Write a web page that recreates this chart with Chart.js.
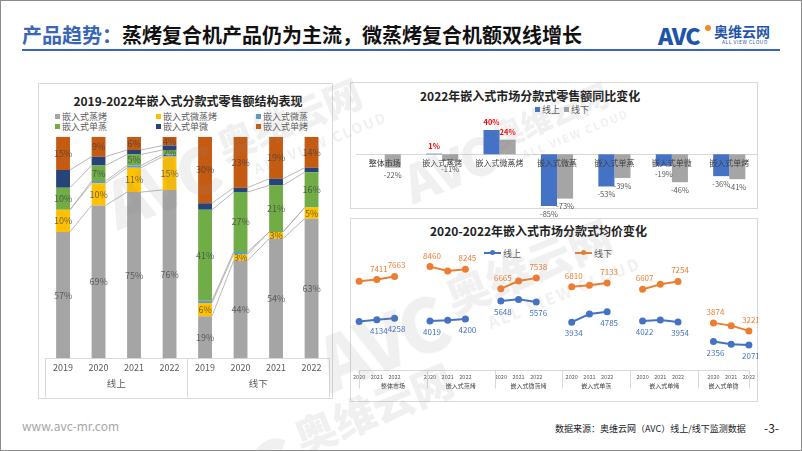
<!DOCTYPE html>
<html>
<head>
<meta charset="utf-8">
<script src="https://cdn.jsdelivr.net/npm/chart.js@4.4.0/dist/chart.umd.min.js"></script>
<style>
  body { margin: 0; background: #fff; }
  #slide { position: relative; width: 802px; height: 451px; overflow: hidden; background: #fff;
           font-family: "Noto Sans CJK SC", "Noto Sans", sans-serif; }
  .abs { position: absolute; }
  .panel { position: absolute; border: 1px solid #D9D9D9; box-sizing: border-box; }
  .ctitle { position: absolute; font-size: 12px; font-weight: 700; color: #222; white-space: nowrap; line-height: 16px; }
  .legend { position: absolute; font-size: 9px; color: #595959; white-space: nowrap; line-height: 10px; }
  .legend span.sw { display: inline-block; width: 5px; height: 5px; margin-right: 2px; vertical-align: 1px; }
  canvas { position: absolute; }
  .wm { position: absolute; color: rgba(140,140,140,0.13); white-space: nowrap; transform-origin: 0 0; pointer-events: none; }
  .wm .big { font-size: 64px; font-weight: 900; letter-spacing: -3px; line-height: 64px; display: inline-block; }
  .wm .cn { font-size: 38px; font-weight: 900; line-height: 40px; display: inline-block; vertical-align: top; margin-left: 10px; }
  .wm .en { position: absolute; left: 150px; top: 44px; font-size: 14px; font-weight: 700; letter-spacing: 2px; }
</style>
</head>
<body>
<div id="slide">
  <div class="abs" style="left:22px;top:21px;font-size:20px;font-weight:700;line-height:28px;color:#111;white-space:nowrap;"><span style="color:#3A66B8;">产品趋势：</span>蒸烤复合机产品仍为主流，微蒸烤复合机额双线增长</div>
  <div class="abs" style="left:22px;top:49px;width:758px;height:2px;background:#3A66B8;"></div>
  <div class="abs" style="left:658px;top:20px;font-size:23px;font-weight:900;color:#1F55A8;letter-spacing:-1px;line-height:30px;">AVC</div>
  <div class="abs" style="left:705px;top:25px;width:6px;height:6px;border-radius:3px;background:#F08A24;"></div>
  <div class="abs" style="left:714px;top:23px;font-size:14px;font-weight:700;color:#1F55A8;line-height:16px;">奥维云网</div>
  <div class="abs" style="left:722px;top:39px;font-size:5px;color:#1F55A8;line-height:6px;letter-spacing:0.5px;">ALL VIEW CLOUD</div>

  <!-- left panel -->
  <div class="panel" style="left:38px;top:83px;width:295px;height:316px;"></div>
  <div class="ctitle" style="left:38px;top:93px;width:300px;text-align:center;">2019-2022年嵌入式分款式零售额结构表现</div>
  <div class="legend" id="mixLegend" style="left:55px;top:112px;display:grid;grid-template-columns:101px 100px 100px;"></div>
  <canvas id="mixChart" width="295" height="316" style="left:38px;top:83px;"></canvas>

  <!-- top right panel -->
  <div class="panel" style="left:350px;top:82px;width:408px;height:127px;"></div>
  <div class="ctitle" style="left:420px;top:88px;width:216px;text-align:center;">2022年嵌入式市场分款式零售额同比变化</div>
  <div class="legend" id="yoyLegend" style="left:535px;top:105px;"></div>
  <canvas id="yoyChart" width="408" height="135" style="left:350px;top:82px;"></canvas>

  <!-- bottom right panel -->
  <div class="panel" style="left:350px;top:218px;width:408px;height:184px;"></div>
  <div class="ctitle" style="left:430px;top:223px;width:216px;text-align:center;">2020-2022年嵌入式市场分款式均价变化</div>
  <div class="legend" id="priceLegend" style="left:484px;top:249px;"></div>
  <canvas id="priceChart" width="408" height="184" style="left:350px;top:218px;"></canvas>

  <div class="abs" style="left:22px;top:418px;font-size:12px;color:#A6A6A6;line-height:16px;">www.avc-mr.com</div>
  <div class="abs" style="left:555px;top:423px;font-size:9px;color:#222;line-height:12px;white-space:nowrap;">数据来源：奥维云网（AVC）线上/线下监测数据</div>
  <div class="abs" style="left:764px;top:420px;font-size:12px;color:#222;line-height:16px;">-3-</div>

  <!-- watermarks -->
  <div class="wm" style="left:95px;top:175px;transform:rotate(-22deg);"><span class="big">AVC</span><span class="cn">奥维云网</span><span class="en">ALL VIEW CLOUD</span></div>
  <div class="wm" style="left:395px;top:160px;transform:rotate(-22deg) scale(0.8);"><span class="big">AVC</span><span class="cn">奥维云网</span><span class="en">ALL VIEW CLOUD</span></div>
  <div class="wm" style="left:305px;top:330px;transform:rotate(-22deg) scale(1.15);"><span class="big">AVC</span><span class="cn">奥维云网</span><span class="en">ALL VIEW CLOUD</span></div>
  <div class="wm" style="left:160px;top:470px;transform:rotate(-22deg) scale(1.1);"><span class="big">AVC</span><span class="cn">奥维云网</span></div>

  <div class="abs" style="left:0;top:0;width:800px;height:449px;border:1px solid #8C8C8C;"></div>
</div>

<script>
// ============ DATA ============
// 零售额结构 (%)
const mixYears = ['2019', '2020', '2021', '2022', '2019', '2020', '2021', '2022'];
const mixChannels = ['线上', '线下'];
const mixSeries = ['嵌入式蒸烤', '嵌入式微蒸烤', '嵌入式微蒸', '嵌入式单蒸', '嵌入式单微', '嵌入式单烤'];
const mixSteamBake      = [57, 69, 75, 76, 19, 44, 54, 63];
const mixMicroSteamBake = [10, 10, 11, 15, 6, 3, 3, 5];
const mixMicroSteam     = [0, 1, 1, 1, 1, 1, 0, 0];
const mixSteam          = [10, 7, 5, 2, 41, 27, 21, 16];
const mixMicro          = [8, 4, 2, 2, 3, 2, 3, 2];
const mixBake           = [15, 9, 6, 4, 30, 23, 19, 14];

// 同比变化 (%)
const yoyCats = ['整体市场', '嵌入式蒸烤', '嵌入式微蒸烤', '嵌入式微蒸', '嵌入式单蒸', '嵌入式单微', '嵌入式单烤'];
const yoySeries = ['线上', '线下'];
const yoyOnline  = [0, 1, 40, -85, -53, -19, -36];
const yoyOffline = [-22, -11, 24, -73, -39, -46, -41];

// 均价 (元)
const priceYears = ['2020', '2021', '2022'];
const priceGroups = ['整体市场', '嵌入式蒸烤', '嵌入式微蒸烤', '嵌入式单蒸', '嵌入式单烤', '嵌入式单微'];
const priceSeries = ['线上', '线下'];
const priceOnline  = [[3990, 4134, 4258], [4019, 4090, 4200], [5648, 5790, 5576], [3934, 4600, 4785], [4022, 4100, 3954], [2356, 2130, 2071]];
const priceOffline = [[7260, 7411, 7663], [8460, 8110, 8245], [6665, 7290, 7538], [6810, 6950, 7133], [6607, 7020, 7254], [3874, 3650, 3221]];
const priceShown   = [[1, 2], [0, 2], [0, 2], [0, 2], [0, 2], [0, 2]];

// ============ STYLE ============
const FONT = '"Noto Sans CJK SC", "Noto Sans", sans-serif';
Chart.defaults.font.family = FONT;
Chart.defaults.animation = false;
Chart.defaults.plugins.legend.display = false;
Chart.defaults.plugins.tooltip.enabled = false;

const mixColors = ['#A5A5A5', '#FFC000', '#5B9BD5', '#70AD47', '#264478', '#C55A11'];
const mixLabelled = [true, true, false, true, false, true];
const yoyColors = ['#4472C4', '#A5A5A5'];
const priceColors = ['#4472C4', '#ED7D31'];

// ============ LEGENDS ============
document.getElementById('mixLegend').innerHTML = mixSeries.map((s, i) =>
    `<div><span class="sw" style="background:${mixColors[i]}"></span>${s}</div>`).join('');
document.getElementById('yoyLegend').innerHTML = yoySeries.map((s, i) =>
    `<span class="sw" style="background:${yoyColors[i]}"></span>${s}`).join('&nbsp;&nbsp;');
document.getElementById('priceLegend').innerHTML = priceSeries.map((s, i) =>
    `<span style="display:inline-block;position:relative;width:17px;height:2px;background:${priceColors[i]};vertical-align:3px;margin-right:2px;">` +
    `<span style="position:absolute;left:6px;top:-2px;width:5px;height:5px;border-radius:3px;background:${priceColors[i]}"></span></span>${s}`)
    .join('<span style="display:inline-block;width:54px"></span>');

// ============ LEFT: 结构 ============
const mixPlugin = {
    id: 'mixExtras',
    afterDatasetsDraw(chart) {
        const ctx = chart.ctx;
        const sets = chart.data.datasets;
        ctx.save();
        // series lines between bars of the same channel
        ctx.strokeStyle = '#A6A6A6';
        ctx.lineWidth = 0.8;
        sets.forEach((ds, d) => {
            if (d === sets.length - 1) return;
            const bars = chart.getDatasetMeta(d).data;
            for (let i = 0; i < bars.length - 1; i++) {
                if (i === 3) continue;
                const a = bars[i], b = bars[i + 1];
                ctx.beginPath();
                ctx.moveTo(a.x + a.width / 2, a.y);
                ctx.lineTo(b.x - b.width / 2, b.y);
                ctx.stroke();
            }
        });
        // data labels
        ctx.font = '9px ' + FONT;
        ctx.textAlign = 'center';
        ctx.textBaseline = 'middle';
        ctx.fillStyle = 'rgba(64,64,64,0.75)';
        sets.forEach((ds, d) => {
            if (!mixLabelled[d]) return;
            chart.getDatasetMeta(d).data.forEach((bar, i) => {
                const v = ds.data[i];
                if (!v) return;
                ctx.fillText(v + '%', bar.x, (bar.y + bar.base) / 2);
            });
        });
        // channel labels + separators
        const x = chart.scales.x, area = chart.chartArea;
        const mid = (x.getPixelForValue(3) + x.getPixelForValue(4)) / 2;
        ctx.strokeStyle = '#D9D9D9';
        ctx.lineWidth = 1;
        [area.left, mid, area.right].forEach(px => {
            ctx.beginPath();
            ctx.moveTo(Math.round(px) + 0.5, area.bottom);
            ctx.lineTo(Math.round(px) + 0.5, area.bottom + 39);
            ctx.stroke();
        });
        ctx.fillStyle = '#595959';
        ctx.font = '9.5px ' + FONT;
        mixChannels.forEach((c, k) => {
            const cx = (x.getPixelForValue(k * 4 + 1) + x.getPixelForValue(k * 4 + 2)) / 2;
            ctx.fillText(c, cx, area.bottom + 25);
        });
        ctx.restore();
    }
};

new Chart(document.getElementById('mixChart'), {
    type: 'bar',
    data: {
        labels: mixYears,
        datasets: [mixSteamBake, mixMicroSteamBake, mixMicroSteam, mixSteam, mixMicro, mixBake].map((data, i) => ({
            label: mixSeries[i], data, backgroundColor: mixColors[i]
        }))
    },
    options: {
        responsive: false,
        layout: { padding: { left: 7.3, right: 3.7, top: 53.7, bottom: 0.7 } },
        datasets: { bar: { barPercentage: 0.39, categoryPercentage: 1 } },
        scales: {
            x: {
                stacked: true,
                grid: { display: false, drawTicks: false },
                border: { color: '#D9D9D9' },
                ticks: { color: '#595959', font: { size: 9 }, padding: 4, maxRotation: 0, autoSkip: false },
                afterFit: s => { s.height = 40; }
            },
            y: { stacked: true, display: false, min: 0, max: 100 }
        }
    },
    plugins: [mixPlugin]
});

// ============ TOP RIGHT: 同比 ============
const yoyPlugin = {
    id: 'yoyLabels',
    afterDatasetsDraw(chart) {
        const ctx = chart.ctx;
        ctx.save();
        ctx.textAlign = 'center';
        ctx.textBaseline = 'middle';
        chart.data.datasets.forEach((ds, d) => {
            chart.getDatasetMeta(d).data.forEach((bar, i) => {
                const v = ds.data[i];
                if (v === 0) return;
                if (v > 0) {
                    ctx.fillStyle = '#FF0000';
                    ctx.font = 'bold 7.5px ' + FONT;
                    ctx.fillText(v + '%', bar.x, bar.y - 8);
                } else {
                    ctx.fillStyle = '#595959';
                    ctx.font = '7.5px ' + FONT;
                    ctx.fillText(v + '%', bar.x, Math.min(bar.y + 8, 208));
                }
            });
        });
        ctx.restore();
    }
};

new Chart(document.getElementById('yoyChart'), {
    type: 'bar',
    data: {
        labels: yoyCats,
        datasets: [yoyOnline, yoyOffline].map((data, i) => ({
            label: yoySeries[i], data, backgroundColor: yoyColors[i]
        }))
    },
    options: {
        responsive: false,
        layout: { padding: { left: 6, right: 0, top: 48, bottom: 11.1 } },
        datasets: { bar: { barPercentage: 1, categoryPercentage: 0.56 } },
        scales: {
            x: {
                position: { y: 0 },
                grid: { display: false, drawTicks: false },
                border: { color: '#D9D9D9', dash: [3, 2] },
                ticks: { z: 1, color: '#404040', font: { size: 8 }, padding: 4, maxRotation: 0, autoSkip: false }
            },
            y: { display: false, min: -85, max: 40 }
        }
    },
    plugins: [yoyPlugin]
});

// ============ BOTTOM RIGHT: 均价 ============
const lastGroup = priceGroups.length - 1;
const flatten = groups => groups.flatMap((g, k) => k < lastGroup ? [...g, null] : g);
const priceLabels = priceGroups.flatMap((g, k) => k < lastGroup ? [...priceYears, ''] : priceYears);

const pricePlugin = {
    id: 'priceExtras',
    afterDatasetsDraw(chart) {
        const ctx = chart.ctx;
        const area = chart.chartArea;
        const slot = (area.right - area.left) / priceLabels.length;
        ctx.save();
        // value labels
        ctx.textAlign = 'center';
        ctx.textBaseline = 'middle';
        ctx.font = '8px ' + FONT;
        chart.data.datasets.forEach((ds, d) => {
            const pts = chart.getDatasetMeta(d).data;
            ctx.fillStyle = ds.borderColor;
            priceShown.forEach((idxs, k) => {
                idxs.forEach(j => {
                    const i = k * 4 + j;
                    const p = pts[i];
                    ctx.fillText(ds.data[i], p.x + 2, p.y + (d === 0 ? 11 : -11));
                });
            });
        });
        // axis line, separators and group labels
        ctx.strokeStyle = '#D9D9D9';
        ctx.lineWidth = 1;
        const y0 = Math.round(area.bottom) + 0.5;
        ctx.beginPath();
        ctx.moveTo(area.left, y0);
        ctx.lineTo(area.right, y0);
        ctx.stroke();
        const bounds = priceGroups.map((g, k) => area.left + k * 4 * slot).concat([area.right]);
        bounds.forEach(px => {
            ctx.beginPath();
            ctx.moveTo(Math.round(px) + 0.5, y0);
            ctx.lineTo(Math.round(px) + 0.5, y0 + 18);
            ctx.stroke();
        });
        ctx.fillStyle = '#404040';
        ctx.font = '6px ' + FONT;
        priceGroups.forEach((g, k) => {
            const right = k < lastGroup ? bounds[k] + 4 * slot : area.right;
            ctx.fillText(g, (bounds[k] + right) / 2, area.bottom + 15);
        });
        ctx.restore();
    }
};

new Chart(document.getElementById('priceChart'), {
    type: 'line',
    data: {
        labels: priceLabels,
        datasets: [priceOnline, priceOffline].map((groups, i) => ({
            label: priceSeries[i],
            data: flatten(groups),
            borderColor: priceColors[i],
            backgroundColor: priceColors[i],
            borderWidth: 2,
            pointRadius: 2.5,
            spanGaps: false
        }))
    },
    options: {
        responsive: false,
        layout: { padding: { left: 3.3, right: 2.2, top: 42, bottom: 0 } },
        scales: {
            x: {
                grid: { display: false, drawTicks: false },
                border: { display: false },
                ticks: { color: '#595959', font: { size: 5.5 }, padding: 3, maxRotation: 0, autoSkip: false },
                afterFit: s => { s.height = 31.6; }
            },
            y: { display: false, min: 0, max: 9000 }
        }
    },
    plugins: [pricePlugin]
});
</script>
</body>
</html>
